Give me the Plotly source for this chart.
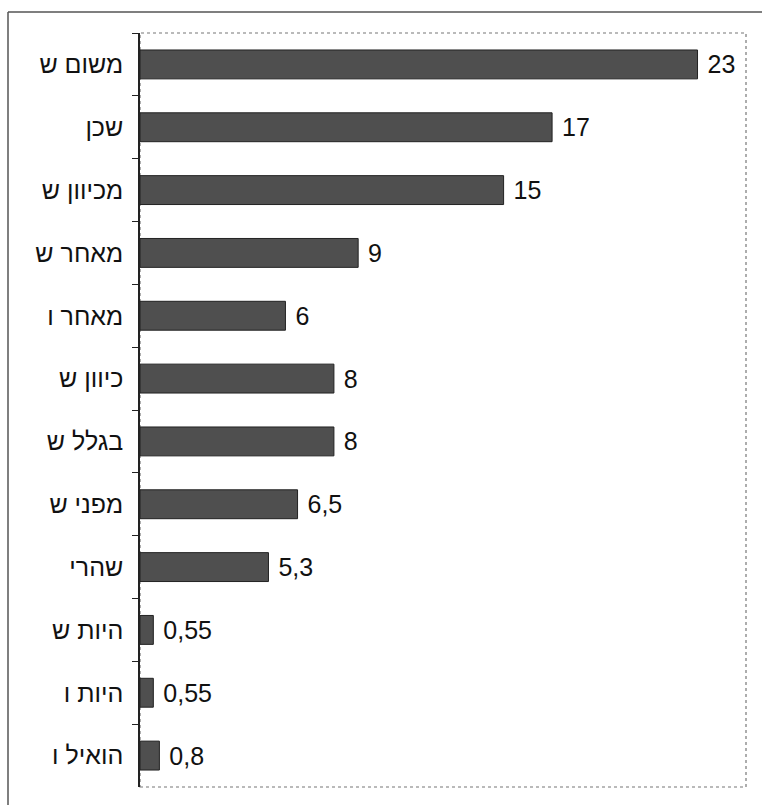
import plotly.graph_objects as go

categories = ["משום ש", "שכן", "מכיוון ש", "מאחר ש", "מאחר ו", "כיוון ש",
              "בגלל ש", "מפני ש", "שהרי", "היות ש", "היות ו", "הואיל ו"]
values = [23, 17, 15, 9, 6, 8, 8, 6.5, 5.3, 0.55, 0.55, 0.8]
value_labels = ["23", "17", "15", "9", "6", "8", "8", "6,5", "5,3", "0,55", "0,55", "0,8"]

W, H = 762, 805
L, R, T, B = 140, 16, 33, 18
pw, ph = W - L - R, H - T - B

def px_x(x):
    return (x - L) / pw

def px_y(y):
    return (H - B - y) / ph

FONT = "Liberation Sans, Arial, sans-serif"

fig = go.Figure(go.Bar(
    x=values,
    y=categories,
    orientation="h",
    text=[" " + t for t in value_labels],
    textposition="outside",
    constraintext="none",
    cliponaxis=False,
    textfont=dict(family=FONT, size=25, color="#111111"),
    marker=dict(color="#4f4f4f", line=dict(color="#222222", width=1)),
    hoverinfo="skip",
))

fig.update_layout(
    width=W, height=H,
    margin=dict(l=L, r=R, t=T, b=B, pad=0),
    paper_bgcolor="white",
    plot_bgcolor="white",
    bargap=0.54,
    showlegend=False,
    font=dict(family=FONT, size=25, color="#111111"),
    xaxis=dict(range=[0, 25], showgrid=False, zeroline=False, showticklabels=False,
               ticks="", showline=False, fixedrange=True),
    yaxis=dict(autorange="reversed", type="category", showgrid=False, zeroline=False,
               ticks="outside", tickson="boundaries", ticklen=6, tickcolor="#222",
               tickwidth=1, showline=True, linecolor="#222", linewidth=1.5,
               ticklabelstandoff=10, fixedrange=True,
               tickfont=dict(family=FONT, size=25, color="#111111")),
    shapes=[
        # plot area border (dotted grey)
        dict(type="rect", xref="paper", yref="paper", x0=0, y0=0, x1=1, y1=1,
             line=dict(color="#777777", width=1.2, dash="dot"), layer="below"),
        # outer frame: top and left edges
        dict(type="line", xref="paper", yref="paper",
             x0=px_x(8), y0=px_y(12), x1=px_x(762), y1=px_y(12),
             line=dict(color="#555555", width=1.5)),
        dict(type="line", xref="paper", yref="paper",
             x0=px_x(8), y0=px_y(12), x1=px_x(8), y1=px_y(805),
             line=dict(color="#555555", width=1.5)),
    ],
)

fig.write_html("out.html")
